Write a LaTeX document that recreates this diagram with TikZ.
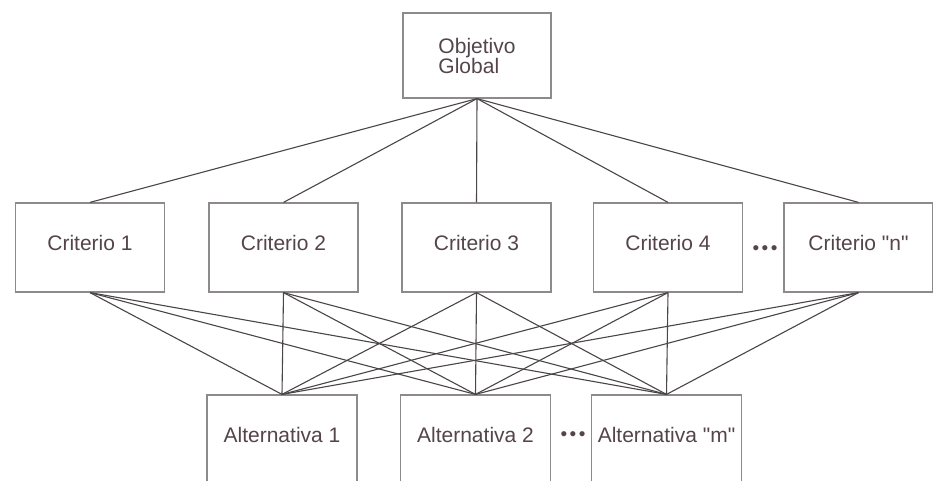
\documentclass[tikz,border=0pt]{standalone}
\usepackage{fontspec}
\setmainfont[Ligatures=TeXOff]{Liberation Sans}
\usepackage{tikz}
\usetikzlibrary{calc}
\definecolor{boxgray}{HTML}{8E8A8C}
\definecolor{linegray}{HTML}{4A4548}
\definecolor{textgray}{HTML}{54444C}
\tikzset{
  goalbox/.style={draw=boxgray, line width=1.2pt, fill=white, inner sep=0pt,
    minimum width=148pt, minimum height=85pt, align=left,
    text=textgray, font=\fontsize{21}{20}\selectfont},
  critbox/.style={draw=boxgray, line width=1.2pt, fill=white, inner sep=0pt,
    minimum width=149pt, minimum height=89pt, text depth=9pt,
    text=textgray, font=\fontsize{21}{24}\selectfont},
  altbox/.style={critbox, minimum width=150pt},
  link/.style={draw=linegray, line width=1.1pt},
  dots/.style={text=textgray, font=\fontsize{19}{19}\selectfont}
}
\newcommand\threedots[0]{\textbullet\hspace{2.5pt}\textbullet\hspace{2.5pt}\textbullet}

\begin{document}
\begin{tikzpicture}[x=1pt, y=-1pt]

\clip (0,0) rectangle (933,481);

% nivel superior
\node[goalbox] (obj) at (477,55.5) {Objetivo\\Global};

% criterios
\node[critbox] (c1) at (90,247.5) {Criterio 1};
\node[critbox] (c2) at (283.5,247.5) {Criterio 2};
\node[critbox] (c3) at (476.5,247.5) {Criterio 3};
\node[critbox] (c4) at (668,247.5) {Criterio 4};
\node[critbox] (cn) at (858.5,247.5) {Criterio "n"};
\node[dots] (cdots) at (765,250) {\threedots};

% alternativas
\node[altbox] (a1) at (282,439.5) {Alternativa 1};
\node[altbox] (a2) at (475.5,439.5) {Alternativa 2};
\node[altbox] (am) at (666.5,439.5) {Alternativa "m"};
\node[dots] (adots) at (573,436) {\threedots};

% objetivo -- criterios
\draw[link] (obj.south)--(c1.north);
\draw[link] (obj.south)--(c2.north);
\draw[link] (obj.south)--(c3.north);
\draw[link] (obj.south)--(c4.north);
\draw[link] (obj.south)--(cn.north);

% criterios -- alternativas
\draw[link] (c1.south)--(a1.north);
\draw[link] (c1.south)--(a2.north);
\draw[link] (c1.south)--(am.north);
\draw[link] (c2.south)--(a1.north);
\draw[link] (c2.south)--(a2.north);
\draw[link] (c2.south)--(am.north);
\draw[link] (c3.south)--(a1.north);
\draw[link] (c3.south)--(a2.north);
\draw[link] (c3.south)--(am.north);
\draw[link] (c4.south)--(a1.north);
\draw[link] (c4.south)--(a2.north);
\draw[link] (c4.south)--(am.north);
\draw[link] (cn.south)--(a1.north);
\draw[link] (cn.south)--(a2.north);
\draw[link] (cn.south)--(am.north);

\end{tikzpicture}
\end{document}
